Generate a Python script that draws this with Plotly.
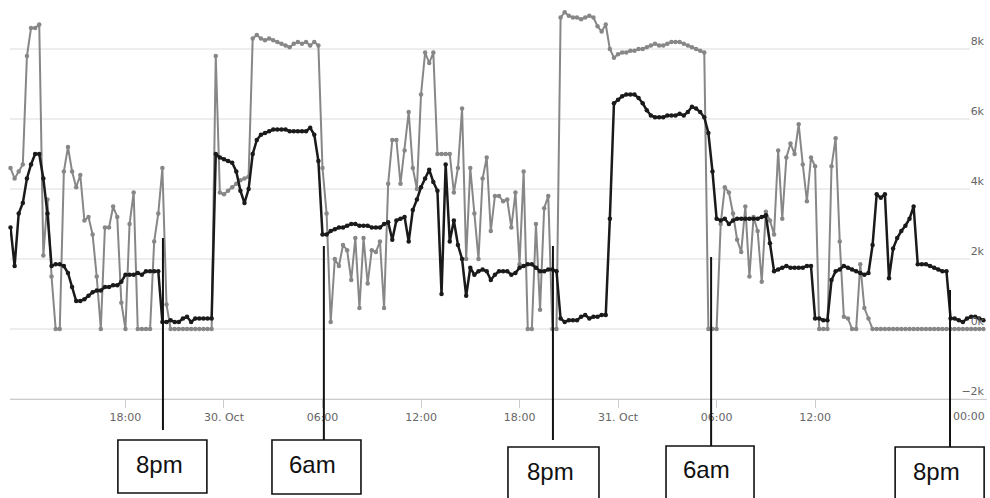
import pandas as pd
import plotly.graph_objects as go

# 15-minute readings, values in thousands
times = pd.date_range("2019-10-29 11:00", periods=238, freq="15min")

gray_load = [
    4.6, 4.3, 4.5, 4.7, 7.8, 8.6, 8.6, 8.7, 2.1, 3.7,
    1.5, 0, 0, 4.5, 5.2, 4.5, 4.05, 4.4, 3.1, 3.2,
    2.7, 1.5, 0, 2.9, 2.9, 3.5, 3.2, 0.75, 0, 3.0,
    3.9, 0, 0, 0, 0, 2.5, 3.3, 4.6, 0.7, 0,
    0, 0, 0, 0, 0, 0, 0, 0, 0, 0,
    7.8, 3.9, 3.85, 3.95, 4.05, 4.15, 4.25, 4.3, 4.35, 8.3,
    8.4, 8.3, 8.25, 8.3, 8.25, 8.2, 8.15, 8.1, 8.05, 8.15,
    8.2, 8.15, 8.2, 8.1, 8.2, 8.1, 4.6, 3.3, 0.2, 2.0,
    1.8, 2.4, 2.25, 1.4, 2.6, 0.6, 2.6, 1.3, 2.25, 2.2,
    2.5, 0.6, 4.15, 5.4, 5.4, 4.15, 5.1, 6.2, 4.6, 4.0,
    6.7, 7.9, 7.6, 7.9, 5.0, 5.0, 5.0, 5.0, 3.9, 4.6,
    6.3, 2.0, 4.6, 3.3, 2.0, 4.3, 4.9, 2.8, 3.8, 3.8,
    3.65, 3.7, 2.9, 3.9, 1.85, 4.5, 0, 0, 3.0, 0.55,
    3.45, 3.8, 0, 0, 8.9, 9.05, 8.95, 8.9, 8.9, 8.85,
    8.9, 8.95, 8.9, 8.65, 8.5, 8.7, 8.0, 7.75, 7.85, 7.9,
    7.9, 7.95, 7.95, 8.0, 8.0, 8.05, 8.1, 8.15, 8.1, 8.1,
    8.15, 8.2, 8.2, 8.2, 8.15, 8.1, 8.05, 8.0, 7.95, 7.9,
    0, 0, 0, 3.0, 4.05, 3.9, 3.3, 2.55, 2.2, 3.5,
    1.5, 3.2, 2.8, 1.35, 3.35, 3.1, 2.7, 5.1, 3.15, 4.9,
    5.3, 5.0, 5.85, 4.7, 3.65, 4.9, 4.65, 0, 0, 0,
    4.65, 5.45, 2.5, 0.35, 0.3, 0, 0, 1.85, 0.6, 0.3,
    0, 0, 0, 0, 0, 0, 0, 0, 0, 0,
    0, 0, 0, 0, 0, 0, 0, 0, 0, 0,
    0, 0, 0, 0, 0, 0, 0, 0,
]

black_load = [
    2.9, 1.8, 3.3, 3.6, 4.3, 4.7, 5.0, 5.0, 4.3, 3.3,
    1.8, 1.85, 1.85, 1.8, 1.6, 1.2, 0.8, 0.8, 0.85, 0.95,
    1.05, 1.1, 1.1, 1.2, 1.2, 1.25, 1.25, 1.35, 1.55, 1.55,
    1.55, 1.6, 1.55, 1.65, 1.65, 1.65, 1.65, 0.2, 0.2, 0.25,
    0.2, 0.2, 0.3, 0.35, 0.2, 0.3, 0.3, 0.3, 0.3, 0.3,
    5.0, 4.9, 4.85, 4.8, 4.75, 4.5, 3.95, 3.6, 4.0, 5.0,
    5.4, 5.55, 5.6, 5.65, 5.7, 5.7, 5.7, 5.7, 5.65, 5.65,
    5.65, 5.65, 5.65, 5.75, 5.55, 4.8, 2.7, 2.7, 2.8, 2.85,
    2.9, 2.9, 2.95, 3.0, 3.0, 2.95, 2.95, 2.95, 2.9, 2.9,
    2.9, 3.0, 3.05, 2.55, 3.1, 3.15, 3.2, 2.5, 3.4, 3.7,
    4.05, 4.3, 4.55, 4.2, 3.95, 1.0, 4.7, 2.5, 3.1, 2.4,
    2.0, 0.95, 1.75, 1.55, 1.65, 1.7, 1.65, 1.4, 1.55, 1.65,
    1.65, 1.65, 1.55, 1.6, 1.75, 1.8, 1.85, 1.85, 1.75, 1.65,
    1.65, 1.7, 1.7, 1.65, 0.3, 0.2, 0.25, 0.25, 0.25, 0.35,
    0.4, 0.3, 0.35, 0.35, 0.4, 0.4, 3.15, 6.45, 6.55, 6.65,
    6.7, 6.7, 6.7, 6.6, 6.45, 6.25, 6.1, 6.05, 6.05, 6.05,
    6.1, 6.1, 6.1, 6.15, 6.1, 6.2, 6.35, 6.3, 6.2, 6.05,
    5.6, 4.5, 3.15, 3.1, 3.15, 3.0, 3.1, 3.15, 3.15, 3.15,
    3.15, 3.15, 3.15, 3.2, 3.25, 2.45, 1.65, 1.7, 1.75, 1.8,
    1.75, 1.75, 1.75, 1.75, 1.8, 1.8, 0.3, 0.3, 0.25, 0.25,
    1.4, 1.65, 1.7, 1.8, 1.75, 1.7, 1.65, 1.6, 1.55, 1.6,
    2.4, 3.85, 3.75, 3.85, 1.45, 2.3, 2.6, 2.8, 2.95, 3.15,
    3.5, 1.85, 1.85, 1.85, 1.8, 1.75, 1.7, 1.65, 1.65, 0.3,
    0.3, 0.25, 0.2, 0.3, 0.35, 0.35, 0.3, 0.25,
]

y_ticks = [-2, 0, 2, 4, 6, 8]
y_tick_text = ["\u22122k", "0k", "2k", "4k", "6k", "8k"]

x_tick_times = ["2019-10-29 18:00", "2019-10-30 00:00", "2019-10-30 06:00",
                "2019-10-30 12:00", "2019-10-30 18:00", "2019-10-31 00:00",
                "2019-10-31 06:00", "2019-10-31 12:00"]
x_tick_text = ["18:00", "30. Oct", "06:00", "12:00", "18:00", "31. Oct",
               "06:00", "12:00"]
end_label = "00:00"

x_start = "2019-10-29 10:58:10"
x_end = "2019-10-31 22:28:05"

# callouts: marker time, label, box centre time
callout_times = ["2019-10-29 20:17", "2019-10-30 06:05", "2019-10-30 20:02",
                 "2019-10-31 05:40", "2019-10-31 20:13"]
callout_text = ["8pm", "6am", "8pm", "6am", "8pm"]
box_times = ["2019-10-29 20:15", "2019-10-30 05:38", "2019-10-30 20:04",
             "2019-10-31 05:36", "2019-10-31 19:35"]

W, H = 990, 498
PLOT_TOP, PLOT_BOTTOM = 0, 399
PLOT_H = PLOT_BOTTOM - PLOT_TOP


def py(px):
    """pixel row -> paper y"""
    return (PLOT_BOTTOM - px) / PLOT_H


fig = go.Figure()

fig.add_trace(go.Scatter(
    x=times, y=gray_load, mode="lines+markers",
    line=dict(color="#878787", width=2.0),
    marker=dict(color="#878787", size=4.5),
    showlegend=False, cliponaxis=False,
))
fig.add_trace(go.Scatter(
    x=times, y=black_load, mode="lines+markers",
    line=dict(color="#1a1a1a", width=2.5),
    marker=dict(color="#1a1a1a", size=4.5),
    showlegend=False, cliponaxis=False,
))

shapes = []
# horizontal grid lines stop short of the value labels
for v in y_ticks:
    shapes.append(dict(type="line", xref="paper", yref="y",
                       x0=0, x1=(970 - 10) / (987 - 10), y0=v, y1=v,
                       line=dict(color="#dcdcdc", width=1), layer="below"))

line_tops = [238, 246, 246, 257, 290]
line_bottoms = [430, 440, 440, 446, 447]
box_tops = [440, 440, 447, 446, 447]
box_bottoms = [493, 494, 502, 502, 502]
box_widths = [89, 89, 91, 88, 89]
text_rows = [465, 465, 471, 469, 471]
text_shift = [-3, -4, -3, -4, -3]

annotations = []
for t, lab, bt, lt, lb, btop, bbot, bw, tr, ts in zip(
        callout_times, callout_text, box_times, line_tops, line_bottoms,
        box_tops, box_bottoms, box_widths, text_rows, text_shift):
    shapes.append(dict(type="line", xref="x", yref="paper",
                       x0=t, x1=t, y0=py(lt), y1=py(lb),
                       line=dict(color="#111111", width=2), layer="above"))
    shapes.append(dict(type="rect", xref="x", yref="paper",
                       xsizemode="pixel", xanchor=bt,
                       x0=-bw / 2, x1=bw / 2, y0=py(bbot), y1=py(btop),
                       line=dict(color="#111111", width=1.6),
                       fillcolor="white", layer="above"))
    annotations.append(dict(xref="x", yref="paper", x=bt, y=py(tr),
                            xshift=ts, text=lab, showarrow=False,
                            xanchor="center", yanchor="middle",
                            font=dict(family="Liberation Sans", size=24,
                                      color="#111111")))

annotations.append(dict(xref="x", yref="paper", x=x_end, y=py(417),
                        text=end_label, showarrow=False,
                        xanchor="right", yanchor="middle",
                        font=dict(family="DejaVu Sans", size=11, color="#666666")))

fig.update_layout(
    width=W, height=H,
    margin=dict(l=10, r=3, t=PLOT_TOP, b=H - PLOT_BOTTOM),
    paper_bgcolor="white", plot_bgcolor="white",
    shapes=shapes, annotations=annotations,
    xaxis=dict(
        type="date", range=[x_start, x_end],
        tickvals=x_tick_times + [x_end], ticktext=x_tick_text + [""],
        showgrid=False, zeroline=False,
        showline=True, linecolor="#cccccc", linewidth=1,
        ticks="outside", ticklen=8, tickcolor="#cccccc",
        tickfont=dict(family="DejaVu Sans", size=11, color="#666666"),
    ),
    yaxis=dict(
        side="right", range=[-2, 9.4],
        tickvals=y_ticks, ticktext=y_tick_text,
        ticklabelposition="inside top",
        showgrid=False, zeroline=False, showline=False, ticks="",
        tickfont=dict(family="DejaVu Sans", size=11, color="#666666"),
    ),
)

fig.write_html("out.html")
